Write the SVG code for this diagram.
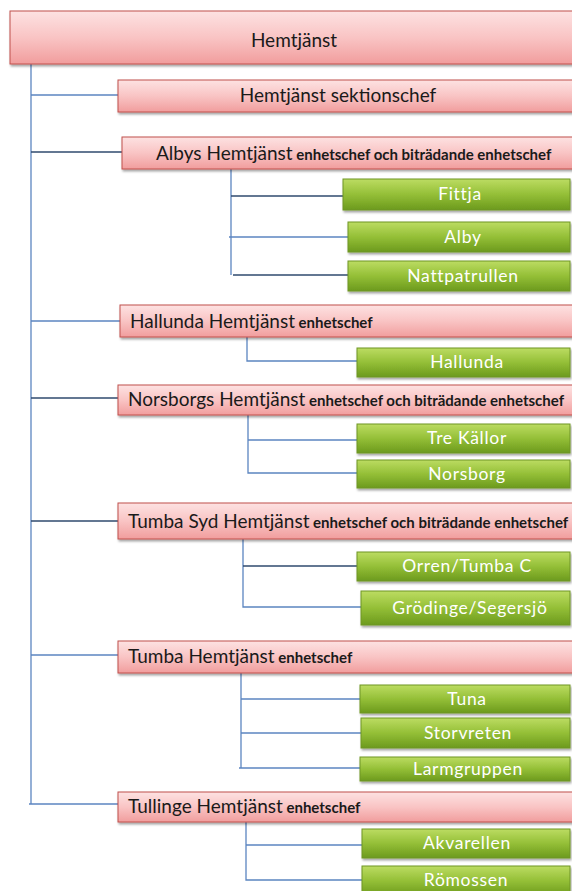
<svg xmlns="http://www.w3.org/2000/svg" width="572" height="891" viewBox="0 0 572 891">
<style>
.pk{fill:url(#pg);stroke:#c0504d;stroke-width:1;filter:url(#sh)}
.gr{fill:url(#gg);stroke:#6f9526;stroke-width:1;filter:url(#sh)}
.t{font-family:Lato,"Liberation Sans",sans-serif;fill:#1a1a1a}
.big{font-size:19px}
.sm{font-size:15px;font-weight:bold}
.gt{font-family:Lato,"Liberation Sans",sans-serif;font-size:17.5px;letter-spacing:0.7px;fill:#ffffff;text-anchor:middle}
.c{fill:none;stroke:#5b85c0;stroke-width:1.3}
.d{fill:none;stroke:#2f4a6e;stroke-width:1.3}
</style>
<defs>
<linearGradient id="pg" x1="0" y1="0" x2="0" y2="1">
<stop offset="0" stop-color="#fde2e2"/>
<stop offset="0.5" stop-color="#f9c4c4"/>
<stop offset="1" stop-color="#f19d9d"/>
</linearGradient>
<linearGradient id="gg" x1="0" y1="0" x2="0" y2="1">
<stop offset="0" stop-color="#bcdc62"/>
<stop offset="0.5" stop-color="#94bf37"/>
<stop offset="1" stop-color="#6c9a1d"/>
</linearGradient>
<filter id="sh" x="-5%" y="-20%" width="110%" height="150%">
<feDropShadow dx="1" dy="2" stdDeviation="1.2" flood-color="#000" flood-opacity="0.35"/>
</filter>
</defs>
<rect width="572" height="891" fill="#ffffff"/>
<g id="connectors">
<path class="c" d="M31 64V804"/>
<path class="c" d="M31 95H118"/>
<path class="d" d="M31 152H122"/>
<path class="c" d="M31 321H120"/>
<path class="d" d="M31 398H118"/>
<path class="d" d="M31 521H118"/>
<path class="c" d="M31 655H118"/>
<path class="c" d="M29 804H118"/>
<path class="c" d="M231 168V275"/>
<path class="d" d="M231 196H343"/>
<path class="c" d="M229 237H348"/>
<path class="d" d="M233 275H348"/>
<path class="c" d="M247 337V361H357"/>
<path class="c" d="M248 414V473H357"/>
<path class="c" d="M248 440H357"/>
<path class="c" d="M243 539V607H361"/>
<path class="d" d="M243 566H357"/>
<path class="c" d="M241 673V768"/>
<path class="c" d="M241 699H360"/>
<path class="c" d="M241 733H361"/>
<path class="c" d="M239 768H360"/>
<path class="c" d="M246 822V880H362"/>
<path class="c" d="M246 845H362"/>
</g>
<g id="n-hemtjanst">
<rect class="pk" x="10" y="11" width="575" height="53"/>
<text class="t big" x="294" y="47" text-anchor="middle">Hemtjänst</text>
</g>
<g id="n-sektionschef">
<rect class="pk" x="118" y="80" width="470" height="32"/>
<text class="t big" x="338" y="102" text-anchor="middle">Hemtjänst sektionschef</text>
</g>
<g id="n-albys">
<rect class="pk" x="122" y="137" width="470" height="32"/>
<text class="t" x="156" y="160"><tspan class="big">Albys Hemtjänst</tspan><tspan class="sm"> enhetschef och biträdande enhetschef</tspan></text>
</g>
<g id="n-fittja"><rect class="gr" x="343" y="179" width="227" height="31"/><text class="gt" x="460" y="200">Fittja</text></g>
<g id="n-alby"><rect class="gr" x="348" y="222" width="222" height="30"/><text class="gt" x="463" y="243">Alby</text></g>
<g id="n-nattpatrullen"><rect class="gr" x="348" y="261" width="222" height="30"/><text class="gt" x="463" y="282">Nattpatrullen</text></g>
<g id="n-hallunda-hemtjanst">
<rect class="pk" x="120" y="305" width="470" height="32"/>
<text class="t" x="130" y="328"><tspan class="big">Hallunda Hemtjänst</tspan><tspan class="sm"> enhetschef</tspan></text>
</g>
<g id="n-hallunda"><rect class="gr" x="357" y="348" width="213" height="29"/><text class="gt" x="467" y="368">Hallunda</text></g>
<g id="n-norsborgs">
<rect class="pk" x="118" y="385" width="470" height="30"/>
<text class="t" x="128" y="406"><tspan class="big">Norsborgs Hemtjänst</tspan><tspan class="sm"> enhetschef och biträdande enhetschef</tspan></text>
</g>
<g id="n-trekallor"><rect class="gr" x="357" y="424" width="213" height="29"/><text class="gt" x="467" y="444">Tre Källor</text></g>
<g id="n-norsborg"><rect class="gr" x="357" y="460" width="213" height="28"/><text class="gt" x="467" y="480">Norsborg</text></g>
<g id="n-tumbasyd">
<rect class="pk" x="118" y="503" width="470" height="36"/>
<text class="t" x="128" y="528"><tspan class="big">Tumba Syd Hemtjänst</tspan><tspan class="sm"> enhetschef och biträdande enhetschef</tspan></text>
</g>
<g id="n-orren"><rect class="gr" x="357" y="552" width="213" height="29"/><text class="gt" x="467" y="572">Orren/Tumba C</text></g>
<g id="n-grodinge"><rect class="gr" x="361" y="591" width="209" height="34"/><text class="gt" x="470" y="614">Grödinge/Segersjö</text></g>
<g id="n-tumba">
<rect class="pk" x="118" y="641" width="470" height="32"/>
<text class="t" x="128" y="663"><tspan class="big">Tumba Hemtjänst</tspan><tspan class="sm"> enhetschef</tspan></text>
</g>
<g id="n-tuna"><rect class="gr" x="360" y="685" width="210" height="28"/><text class="gt" x="467" y="705">Tuna</text></g>
<g id="n-storvreten"><rect class="gr" x="361" y="718" width="209" height="30"/><text class="gt" x="468" y="739">Storvreten</text></g>
<g id="n-larmgruppen"><rect class="gr" x="360" y="757" width="210" height="24"/><text class="gt" x="468" y="775">Larmgruppen</text></g>
<g id="n-tullinge">
<rect class="pk" x="118" y="792" width="470" height="30"/>
<text class="t" x="128" y="813"><tspan class="big">Tullinge Hemtjänst</tspan><tspan class="sm"> enhetschef</tspan></text>
</g>
<g id="n-akvarellen"><rect class="gr" x="362" y="829" width="208" height="29"/><text class="gt" x="467" y="849">Akvarellen</text></g>
<g id="n-romossen"><rect class="gr" x="362" y="866" width="208" height="30"/><text class="gt" x="466" y="886">Römossen</text></g>
</svg>
